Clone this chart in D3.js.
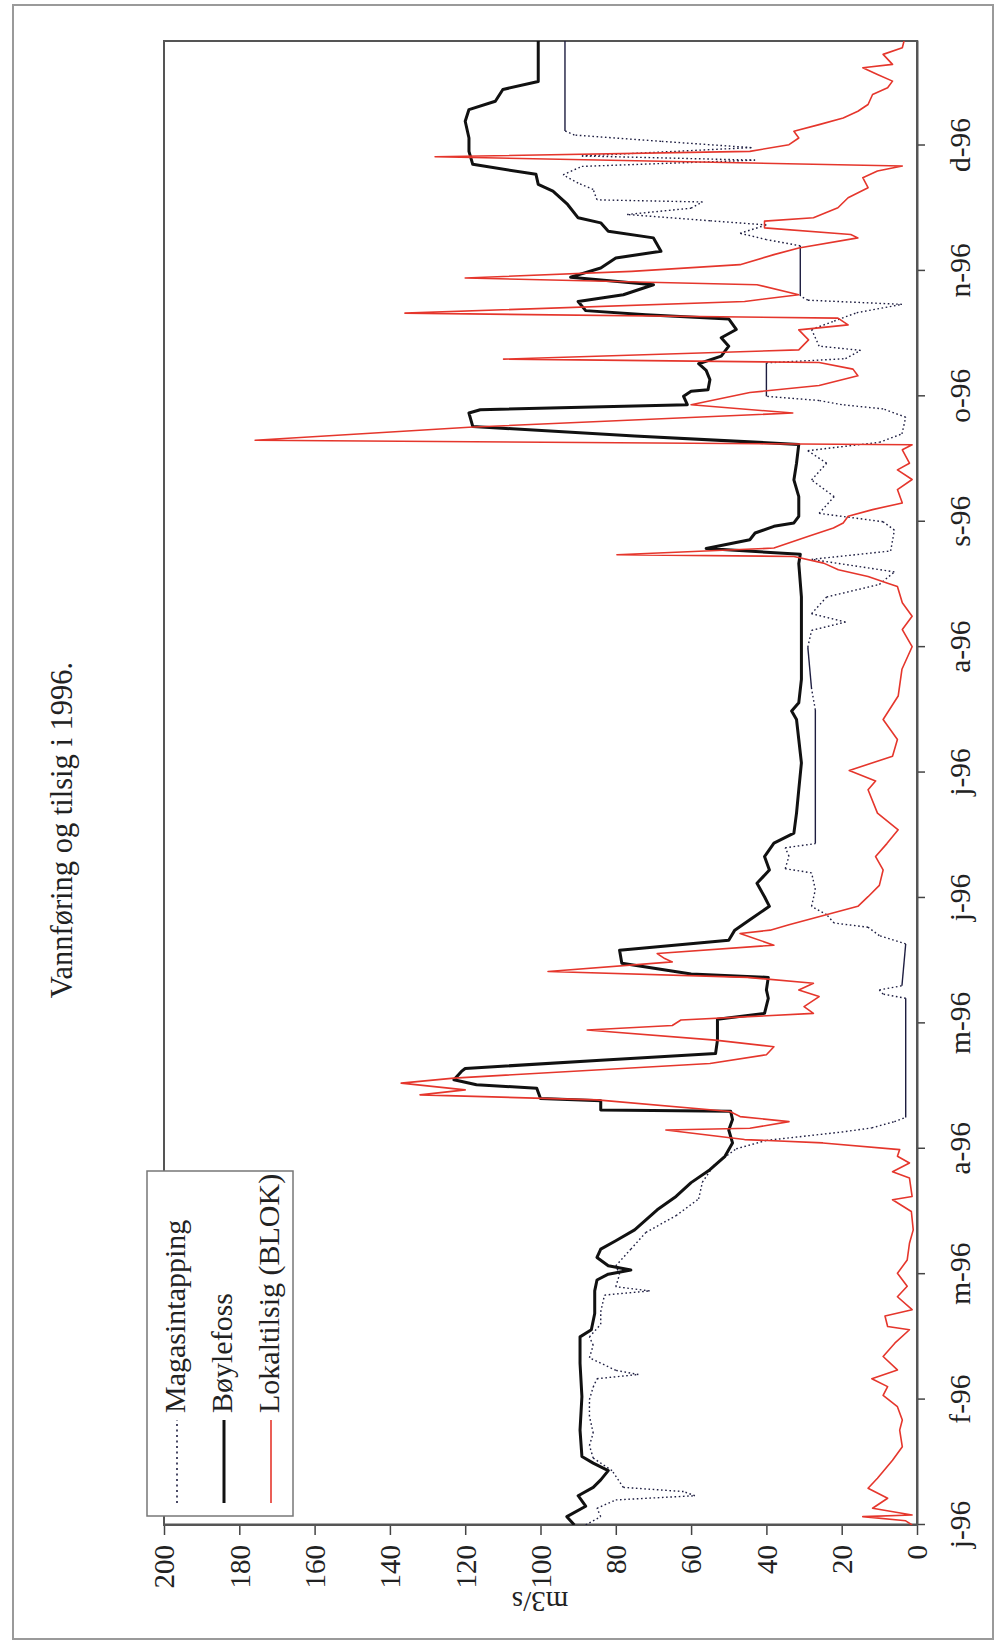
<!DOCTYPE html>
<html><head><meta charset="utf-8">
<script src="https://cdn.jsdelivr.net/npm/d3@7/dist/d3.min.js"></script>
<style>body{margin:0;background:#fff} svg{display:block}</style>
</head><body>
<svg id="c" width="999" height="1642"></svg>
<script>
// ---- data (day index from 1 Jan 1996, m3/s) ----
const monthLabels = ["j-96","f-96","m-96","a-96","m-96","j-96","j-96","a-96","s-96","o-96","n-96","d-96"];
const monthTickDays = [0,30,60,90,120,150,180,210,240,270,300,330];
const valueTicks = [0,20,40,60,80,100,120,140,160,180,200];
const seriesNames = ["Magasintapping","Bøylefoss","Lokaltilsig (BLOK)"];
const titleText = "Vannføring og tilsig i 1996.";
const unitLabel = "m3/s";

const magasintapping = [[0,88],[2,84],[4,85],[6,80],[7,59],[8,62],[9,78],[13,81],[16,86],[19,87],[22,86],[26,87],[30,87],[33,86],[35,85],[36,74],[37,80],[40,87],[43,86],[45,87],[48,84],[51,84],[55,83],[56,71],[57,80],[60,79],[62,80],[66,76],[70,72],[74,64],[78,58],[82,57],[86,54],[90,48],[92,40],[93,30],[94,20],[95,12],[96.5,6],[97.5,3],[126,3],[127,9],[128,10],[129,4],[139,3],[141,10],[143,13],[144,22],[146,24],[148,28],[152,27],[156,28],[157,35],[160,34],[162,35],[163,27],[195,27],[200,28],[210,29],[214,28],[216,19],[218,28],[222,24],[225,10],[228,6],[231,28],[233,7],[238,6],[240,9],[242,26],[246,22],[250,28],[254,24],[257,29],[259,10],[261,4],[265,3],[267,9],[268,20],[269,26],[270,40],[278,40],[279,19],[281,15],[282,26],[286,28],[288,22],[290,16],[292,4],[293,29],[294,31],[306,31],[307.5,40],[309,47],[311,40],[312,55],[313.5,77],[315,60],[316.5,57],[317,85],[319.5,86],[321,90],[323,94],[325,89],[326.5,43],[327.5,89],[329.5,44],[331,68],[332.5,91],[333.5,93.5],[355,93.5]];

const boylefoss = [[0,91],[2,93],[4.5,88],[7,90],[9,86],[10.8,84],[13,82],[14.8,86],[16.4,89],[22.7,89.5],[30.7,89],[38.7,89.5],[45,89.5],[46.7,86.5],[50.6,85.6],[56,85.6],[58.6,85],[60,82],[61,76],[62,82],[64,85],[66,84],[68,80],[70.6,75],[75.4,69],[78.6,64],[81.9,60],[85,55],[88.2,51],[91.4,49],[94.5,50],[97,49],[99,49.5],[99.3,84],[101.5,84],[102,100],[104.5,101],[105.3,117],[106.5,123],[108.5,121],[109.2,120],[111.2,84],[112.8,53.5],[116,53],[121,53],[122.4,40.5],[126,39.5],[128,40],[131,39.5],[131.8,60],[134.4,78.4],[137.5,79],[139.9,50],[142.3,48.4],[144.8,44.4],[148,39.2],[150.3,40.5],[153.5,42.5],[156.7,39.2],[159.9,40.5],[163.1,38],[165.5,32.7],[170.3,32],[175.9,31.4],[182.3,30.7],[187.9,31.4],[192.7,32],[194.7,33.3],[196.7,31.4],[202.3,30.7],[210,30.7],[222,30.7],[230,31.4],[232.2,31],[233.6,56],[235.7,44.4],[237.3,43],[238.9,38],[239.7,32.7],[241.3,31.4],[246,31.4],[250,32.7],[254,32],[258.5,31.4],[260.5,75],[262.8,118],[266,119],[266.8,116],[268,61],[270,62],[271.2,60],[271.6,55.5],[274,55],[276.2,56],[277.8,58],[279.6,52],[282,50],[284,52],[286,48],[288.5,50],[289.5,72],[290.5,88],[292.7,90],[294.3,78],[296.7,70],[298.5,92],[300.7,84],[303.1,80],[304.7,68],[307.9,70],[309.5,82],[311.5,84],[312.7,90],[315.9,92.8],[319.1,96.7],[320.7,100.6],[323.1,101.2],[325.5,118],[328.6,119],[331.8,119],[335.8,120],[338.6,119],[340.6,112],[343.4,110],[345.3,100.6],[356,100.6]];

const lokaltilsig = [[0,1.3],[1,3],[2,14.4],[2.4,1.3],[4,11.8],[6.4,7.8],[8.8,13],[11.2,10.5],[12.8,9],[15.5,6.5],[18.7,3.9],[22.7,4.6],[25.1,3.9],[28.3,5.2],[31,9],[33.1,7.8],[35,12],[37.1,5.2],[40.3,9],[43.5,5.9],[46.7,2],[47.5,7.8],[50,8.5],[51.5,1.3],[54.6,5.2],[57.1,2.6],[60.2,5.2],[63.4,2.6],[67.4,2],[70.6,1],[75,1.5],[77.8,6.5],[78.6,1.3],[83,2],[84.5,6.5],[86.6,2],[88.2,5.2],[89.8,4.6],[91.4,25],[92.2,45.8],[94.5,66.7],[94.9,44.4],[96.5,34],[97.7,47],[98.9,49.7],[101.7,85],[102.9,132],[104.1,120],[105.7,137],[106.9,123],[110.4,55],[112.5,40],[114.4,38],[116,53.6],[118.4,87.6],[119.5,65],[120.8,62.7],[122.4,27.5],[124,30],[126.4,26],[128,31.4],[129.6,27.5],[131,45],[132.4,98],[134.7,65],[135.5,67],[136.7,69],[138.7,38],[141.5,47],[142.3,39],[143.6,34],[148,15.7],[150.3,13],[153,10],[156.7,9],[159.9,11],[163,8],[166.3,5],[170.3,10.5],[175.9,13],[178,11],[180.5,18],[183.9,6.5],[187.9,5.2],[192.7,9],[198.3,5],[204.7,4],[210.1,1.3],[214.2,3.9],[217.4,1.3],[220.6,3.9],[224.5,5.2],[225.3,7.8],[226.9,13],[228.5,20.9],[230.1,24.8],[231.7,32.7],[232.1,79.7],[233.7,38],[236.5,28.8],[238.5,22.2],[239.7,19.6],[241.3,18.3],[242.9,11.8],[244.5,3.9],[247.7,5.2],[250.1,1.3],[252.4,5.2],[254,2],[257.2,3.9],[258.4,1.3],[259.5,175.8],[262.6,119],[266,33],[268,60],[270.9,44.4],[272.6,26],[274.9,15.7],[276.5,17],[278.1,26],[278.9,109.8],[281.1,31.4],[283.5,28.8],[285.9,31.4],[287.1,18.3],[288.7,21],[289.9,136],[292.7,45.8],[294.3,31.4],[296.7,42.5],[298.3,120],[299.9,75.8],[301.5,47],[303.9,38],[305.5,31.4],[307.9,15.7],[308.7,17.6],[310.3,40.5],[311.9,40.5],[312.7,27.5],[315.1,21],[317.5,18.3],[319.9,13],[322.3,14.4],[323.9,10.5],[325.1,3.9],[327.3,128],[328.6,44.4],[330.2,34],[331.8,31.4],[333.4,32.7],[335,26],[336.6,19.6],[338.2,15.7],[339.8,13],[342.2,11.8],[343.8,7.8],[345.4,6.5],[347,10.5],[348.6,14.4],[349.4,6.5],[351.8,9],[353.4,3.9],[355.5,3.3]];

// ---- drawing ----
const FONT = "'Liberation Serif','Times New Roman',serif";
const svg = d3.select("#c");

// outer page frame (screen coordinates)
svg.append("rect").attr("x",13).attr("y",5).attr("width",980).attr("height",1634)
  .attr("fill","none").attr("stroke","#9a9a9a").attr("stroke-width",2);

// the chart is drawn landscape and turned a quarter turn counter-clockwise
const g = svg.append("g").attr("transform","translate(0,1642) rotate(-90)");

const x = d3.scaleLinear().domain([0,355]).range([117,1601]);
const y = d3.scaleLinear().domain([0,200]).range([917,164]);

g.append("defs").append("clipPath").attr("id","plotclip")
  .append("rect").attr("x",117).attr("y",164).attr("width",1484).attr("height",753);

// title
g.append("text").attr("x",812).attr("y",72).attr("text-anchor","middle")
  .attr("font-family",FONT).attr("font-size",30.5).attr("fill","#222").text(titleText);

// value axis (left in landscape -> bottom on screen)
const yAxis = d3.axisLeft(y).tickValues(valueTicks).tickSize(10).tickSizeOuter(0).tickFormat(d3.format("d"));
const ya = g.append("g").attr("transform","translate(117,0)").call(yAxis);
ya.select(".domain").attr("stroke","#555").attr("stroke-width",2);
ya.selectAll(".tick line").attr("stroke","#444").attr("stroke-width",1.5);
ya.selectAll(".tick text").attr("x",-20).attr("dy","0.34em")
  .attr("font-family",FONT).attr("font-size",29).attr("fill","#222");

// unit label
g.append("text").attr("transform","translate(50,540) rotate(-90)").attr("text-anchor","middle")
  .attr("font-family",FONT).attr("font-size",29).attr("fill","#222").text(unitLabel);

// month axis (bottom in landscape -> right on screen)
const xAxis = d3.axisBottom(x).tickValues(monthTickDays).tickSize(8).tickSizeOuter(0)
  .tickFormat((d,i)=>monthLabels[i]);
const xa = g.append("g").attr("transform","translate(0,917)").call(xAxis);
xa.select(".domain").attr("stroke","#555").attr("stroke-width",2);
xa.selectAll(".tick line").attr("stroke","#444").attr("stroke-width",1.5);
xa.selectAll(".tick text").attr("y",53).attr("dy",0)
  .attr("font-family",FONT).attr("font-size",29.5).attr("fill","#222");

// plot frame
g.append("rect").attr("x",117).attr("y",164).attr("width",1484).attr("height",753)
  .attr("fill","none").attr("stroke","#555").attr("stroke-width",2);

const plot = g.append("g").attr("clip-path","url(#plotclip)");
const line = d3.line().x(d=>x(d[0])).y(d=>y(d[1]));

// Magasintapping: dotted, except where it holds one level for a long stretch
const mSegs = d3.pairs(magasintapping);
plot.append("g").selectAll("line").data(mSegs).join("line")
  .attr("x1",d=>x(d[0][0])).attr("y1",d=>y(d[0][1]))
  .attr("x2",d=>x(d[1][0])).attr("y2",d=>y(d[1][1]))
  .attr("stroke","#1d1d40").attr("stroke-width",1.4)
  .attr("stroke-dasharray",d=>{
    const flat = Math.abs(d[1][1]-d[0][1]) < 1.5 && (d[1][0]-d[0][0]) >= 7;
    return flat ? null : "1.6,2.6";
  });

plot.append("path").datum(boylefoss).attr("d",line)
  .attr("fill","none").attr("stroke","#111").attr("stroke-width",3).attr("stroke-linejoin","round");

plot.append("path").datum(lokaltilsig).attr("d",line)
  .attr("fill","none").attr("stroke","#e5362c").attr("stroke-width",1.6).attr("stroke-linejoin","round");

// legend
const lg = g.append("g");
lg.append("rect").attr("x",126).attr("y",147).attr("width",345).attr("height",146)
  .attr("fill","#fff").attr("stroke","#777").attr("stroke-width",1.5);
const legendStyles = [
  {stroke:"#1d1d40", w:1.6, dash:"2,3.5"},
  {stroke:"#111", w:3, dash:null},
  {stroke:"#e5362c", w:1.6, dash:null}
];
const legendRows = [177,224,271];
seriesNames.forEach((name,i)=>{
  lg.append("line").attr("x1",139).attr("x2",222).attr("y1",legendRows[i]).attr("y2",legendRows[i])
    .attr("stroke",legendStyles[i].stroke).attr("stroke-width",legendStyles[i].w)
    .attr("stroke-dasharray",legendStyles[i].dash);
  lg.append("text").attr("x",229).attr("y",legendRows[i]+8)
    .attr("font-family",FONT).attr("font-size",30).attr("fill","#222").text(name);
});
</script>
</body></html>
